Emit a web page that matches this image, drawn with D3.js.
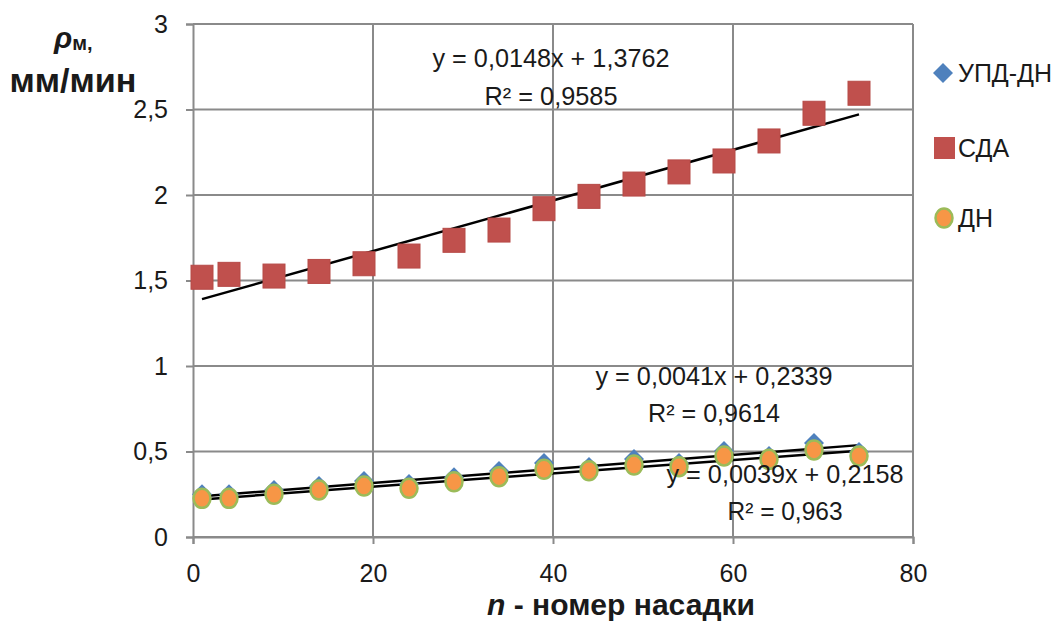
<!DOCTYPE html>
<html><head><meta charset="utf-8">
<script src="https://cdn.jsdelivr.net/npm/d3@7"></script>
<style>
body{margin:0;background:#fff;}
text{font-family:"Liberation Sans",Arial,sans-serif;fill:#1a1a1a;}
</style></head>
<body><svg id="c" width="1057" height="622"></svg>
<script>
const nozzles = [1,4,9,14,19,24,29,34,39,44,49,54,59,64,69,74];
const updDn = [0.25,0.25,0.275,0.298,0.327,0.31,0.35,0.386,0.433,0.41,0.456,0.433,0.503,0.474,0.55,0.497];
const sda   = [1.519,1.536,1.526,1.553,1.598,1.643,1.735,1.795,1.92,1.992,2.064,2.135,2.199,2.316,2.478,2.595];
const dn    = [0.226,0.226,0.25,0.275,0.298,0.285,0.323,0.353,0.396,0.388,0.421,0.411,0.474,0.454,0.509,0.474];
const seriesNames = ["УПД-ДН","СДА","ДН"];
const trendSlopes = [0.0041,0.0148,0.0039];
const trendIntercepts = [0.2339,1.3762,0.2158];
const trendLabels = [["y = 0,0041x + 0,2339","R² = 0,9614"],["y = 0,0148x + 1,3762","R² = 0,9585"],["y = 0,0039x + 0,2158","R² = 0,963"]];
const xTicks = [0,20,40,60,80];
const yTicks = [0,0.5,1,1.5,2,2.5,3];

const svg = d3.select("#c");
const x = d3.scaleLinear().domain([0,80]).range([193,913]);
const y = d3.scaleLinear().domain([0,3]).range([537,24]);
const fmt = d => String(d).replace(".", ",");
const grid = "#8a8a8a";

// gridlines
svg.append("g").selectAll("line").data(yTicks).join("line")
  .attr("x1",x(0)).attr("x2",x(80)).attr("y1",d=>y(d)).attr("y2",d=>y(d))
  .attr("stroke",grid).attr("stroke-width",2);
svg.append("g").selectAll("line").data(xTicks.slice(1)).join("line")
  .attr("x1",d=>x(d)).attr("x2",d=>x(d)).attr("y1",y(0)).attr("y2",y(3))
  .attr("stroke",grid).attr("stroke-width",2);

// axes
const yAxis = svg.append("g").attr("transform",`translate(${x(0)},0)`)
  .call(d3.axisLeft(y).tickValues(yTicks).tickFormat(fmt).tickSize(7).tickPadding(18));
const xAxis = svg.append("g").attr("transform",`translate(0,${y(0)})`)
  .call(d3.axisBottom(x).tickValues(xTicks).tickFormat(fmt).tickSize(7).tickPadding(20));
[yAxis,xAxis].forEach(a=>{
  a.select(".domain").attr("stroke",grid).attr("stroke-width",2);
  a.selectAll(".tick line").attr("stroke",grid).attr("stroke-width",2);
  a.selectAll(".tick text").attr("font-size",25).attr("fill","#1a1a1a")
   .style("font-family",'"Liberation Sans",Arial,sans-serif');
});

// trend lines
const lineGen = d3.line().x(d=>x(d[0])).y(d=>y(d[1]));
trendSlopes.forEach((s,i)=>{
  const x0 = d3.min(nozzles), x1 = d3.max(nozzles);
  svg.append("path").attr("d",lineGen([[x0,trendIntercepts[i]+s*x0],[x1,trendIntercepts[i]+s*x1]]))
    .attr("stroke","#000").attr("stroke-width",2.5).attr("fill","none");
});

// markers
const diamond = "M0,-10L10,0L0,10L-10,0Z";
const g = svg.append("g");
g.selectAll(".dia").data(nozzles.map((n,i)=>[n,updDn[i]])).join("path")
  .attr("d",diamond)
  .attr("transform",d=>`translate(${x(d[0])},${y(d[1])})`)
  .attr("fill","#4F81BD");
g.selectAll(".sq").data(nozzles.map((n,i)=>[n,sda[i]])).join("rect")
  .attr("x",d=>x(d[0])-11).attr("y",d=>y(d[1])-12).attr("width",22).attr("height",24)
  .attr("fill","#C0504D").attr("stroke","#b64a47").attr("stroke-width",1);
g.selectAll(".ci").data(nozzles.map((n,i)=>[n,dn[i]])).join("ellipse")
  .attr("cx",d=>x(d[0])).attr("cy",d=>y(d[1])).attr("rx",8.5).attr("ry",9.5)
  .attr("fill","#F79646").attr("stroke","#9BBB59").attr("stroke-width",2.5);

// trend labels
const labelPos = [[714,385,422,237,132],[551,67,105,237,133],[785,483,520,237,115]];
trendLabels.forEach((t,i)=>{
  const [cx,y1,y2,w1,w2] = labelPos[i];
  svg.append("text").attr("x",cx).attr("y",y1).attr("text-anchor","middle").attr("font-size",25)
    .attr("textLength",w1).attr("lengthAdjust","spacingAndGlyphs").text(t[0]);
  svg.append("text").attr("x",cx).attr("y",y2).attr("text-anchor","middle").attr("font-size",25)
    .attr("textLength",w2).attr("lengthAdjust","spacingAndGlyphs").text(t[1]);
});

// axis titles
const xt = svg.append("text").attr("x",621).attr("y",615).attr("text-anchor","middle")
  .attr("font-size",29).attr("font-weight","bold")
  .attr("textLength",268).attr("lengthAdjust","spacingAndGlyphs");
xt.append("tspan").attr("font-style","italic").text("n");
xt.append("tspan").text(" - номер насадки");
const yt = svg.append("text").attr("x",54).attr("y",48)
  .attr("font-size",30).attr("font-weight","bold");
yt.append("tspan").attr("font-style","italic").text("ρ");
yt.append("tspan").attr("font-size",20).attr("dy",2).text("м,");
svg.append("text").attr("x",73).attr("y",92).attr("text-anchor","middle")
  .attr("font-size",34).attr("font-weight","bold")
  .attr("textLength",127).attr("lengthAdjust","spacingAndGlyphs").text("мм/мин");

// legend
const leg = svg.append("g");
const ly = [73,148,218];
leg.append("path").attr("d",diamond).attr("transform",`translate(943,${ly[0]})`).attr("fill","#4F81BD");
leg.append("rect").attr("x",934).attr("y",ly[1]-11).attr("width",21).attr("height",22).attr("fill","#C0504D");
leg.append("ellipse").attr("cx",944).attr("cy",ly[2]).attr("rx",8.5).attr("ry",9.5).attr("fill","#F79646").attr("stroke","#9BBB59").attr("stroke-width",2.5);
seriesNames.forEach((s,i)=>{
  leg.append("text").attr("x",958).attr("y",ly[i]+9).attr("font-size",25).text(s);
});
</script></body></html>
